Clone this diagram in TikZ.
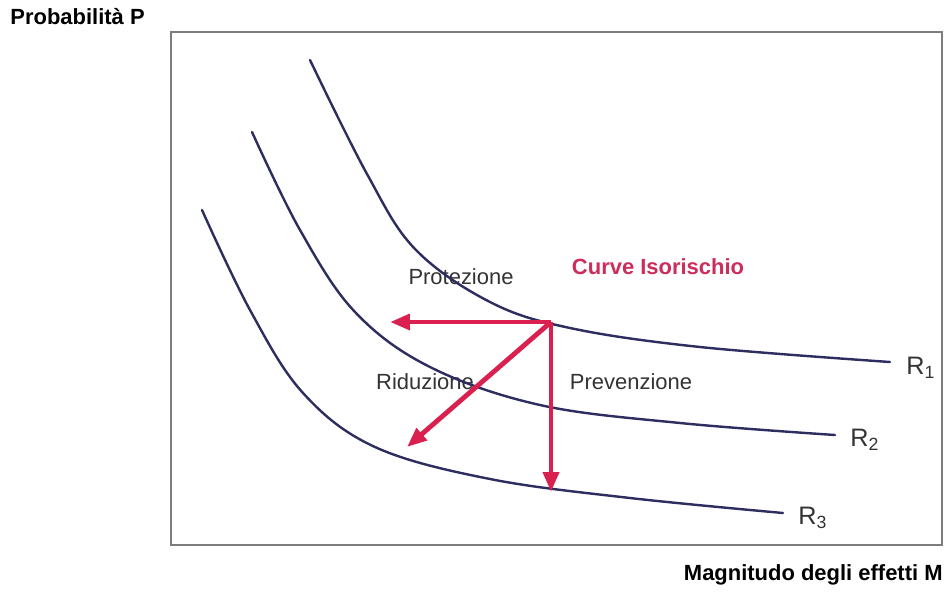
\documentclass[tikz,border=0pt]{standalone}
\usepackage{fontspec}
\setmainfont{Liberation Sans}
\usetikzlibrary{arrows.meta}
\definecolor{curveblue}{RGB}{45,45,95}
\definecolor{arrowred}{RGB}{218,32,78}
\definecolor{titlered}{RGB}{205,45,90}
\definecolor{boxgray}{RGB}{125,125,125}

\begin{document}
\begin{tikzpicture}[x=0.016cm,y=-0.016cm,
  curve_line/.style={curveblue,line width=1.1pt,line cap=round},
  arrow_line/.style={arrowred,line width=2.2pt,-{Triangle[length=9pt,width=7pt]}},
  axis_node/.style={font=\bfseries,inner sep=0pt},
  text_node/.style={inner sep=0pt,text=black!80},
  r_node/.style={font=\fontsize{11.5}{13}\selectfont,inner sep=0pt,anchor=west,text=black!80}]

	\useasboundingbox (0,0) rectangle (944,598);
	\draw[boxgray,line width=0.9pt] (171,32) rectangle (942,545);

	\node[axis_node,anchor=west] (pp)   at (10,17) {Probabilità P};
	\node[axis_node,anchor=east] (mm)   at (943,575) {Magnitudo degli effetti M};

	\node[text_node] (prot)   at (461,277) {Protezione};
	\node[text_node] (ridu)   at (425,382) {Riduzione};
	\node[text_node] (prev)   at (631,382) {Prevenzione};
	\node[text_node, font=\bfseries, text=titlered] (iso)   at (658,267) {Curve Isorischio};

	\coordinate (e1) at (890,362);
	\coordinate (e2) at (835,435);
	\coordinate (e3) at (783,513);
	\node[r_node] (r1)   at (906,368) {R\textsubscript{1}};
	\node[r_node] (r2)   at (850,440) {R\textsubscript{2}};
	\node[r_node] (r3)   at (798,518) {R\textsubscript{3}};

	\draw[curve_line] plot[smooth,tension=0.6] coordinates {(310,60) (367,174) (415,249) (490,302) (570,328) (700,347) (890,362)};
	\draw[curve_line] plot[smooth,tension=0.6] coordinates {(252,132) (300,230) (355,312) (430,367) (540,405) (680,423) (835,435)};
	\draw[curve_line] plot[smooth,tension=0.6] coordinates {(202,210) (250,310) (303,393) (375,447) (490,479) (630,498) (783,513)};

	\coordinate (o) at (551,322);
	\coordinate (pl) at (390,322);
	\coordinate (pd) at (551,492);
	\coordinate (pr) at (407,447);

	\draw[arrow_line] (o) -- (pl);
	\draw[arrow_line] (o) -- (pd);
	\draw[arrow_line] (o) -- (pr);

\end{tikzpicture}
\end{document}
